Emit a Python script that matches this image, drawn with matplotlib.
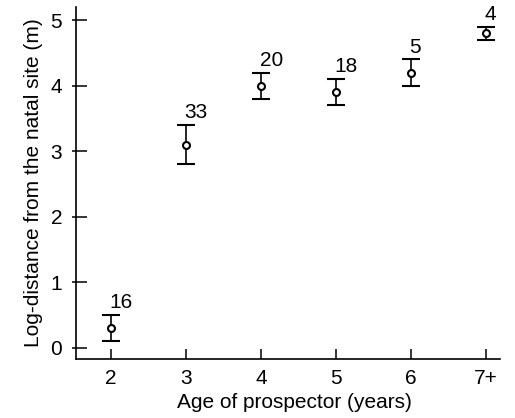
import matplotlib
matplotlib.use('Agg')
import matplotlib.pyplot as plt

plt.rcParams['font.family'] = ['Liberation Sans', 'DejaVu Sans']

ages = [2, 3, 4, 5, 6, 7]
age_labels = ['2', '3', '4', '5', '6', '7+']
log_dist = [0.3, 3.1, 4.0, 3.9, 4.2, 4.8]
err = [0.2, 0.3, 0.2, 0.2, 0.2, 0.1]
n_birds = [16, 33, 20, 18, 5, 4]

fs = 15

fig = plt.figure(figsize=(5.15, 4.18), dpi=100)
ax = fig.add_axes([0.1476, 0.1411, 0.8234, 0.8419])

ax.errorbar(ages, log_dist, yerr=err, fmt='o', color='black', mfc='white',
            mec='black', ms=5, mew=1.5, elinewidth=1.2, capsize=6.5,
            capthick=1.2)

for x, y, e, n in zip(ages, log_dist, err, n_birds):
    ax.annotate(str(n), (x, y + e), xytext=(-1, 2), textcoords='offset points',
                ha='left', va='bottom', fontsize=fs)

ax.set_xlim(1.533, 7.187)
ax.set_ylim(-0.175, 5.2)

for side in ['top', 'right']:
    ax.spines[side].set_visible(False)
for side in ['left', 'bottom']:
    ax.spines[side].set_linewidth(1.2)

ax.set_xticks(ages)
ax.set_xticklabels(age_labels)
ax.set_yticks(range(6))

# y ticks poke out a little on the left, mostly inward
ax.set_yticks(range(6), minor=True)
ax.yaxis.remove_overlapping_locs = False
ax.tick_params(axis='y', which='major', direction='in', length=8, width=1.1,
               labelsize=fs, pad=10)
ax.tick_params(axis='y', which='minor', direction='out', length=3, width=1.1)
ax.tick_params(axis='x', which='major', direction='in', length=7.5, width=1.1,
               labelsize=fs, pad=7)

ax.set_xlabel('Age of prospector (years)', fontsize=fs, labelpad=4)
ax.xaxis.label.set_x(0.515)
ax.set_ylabel('Log-distance from the natal site (m)', fontsize=fs, labelpad=5)

fig.savefig('out.png', dpi=100)
